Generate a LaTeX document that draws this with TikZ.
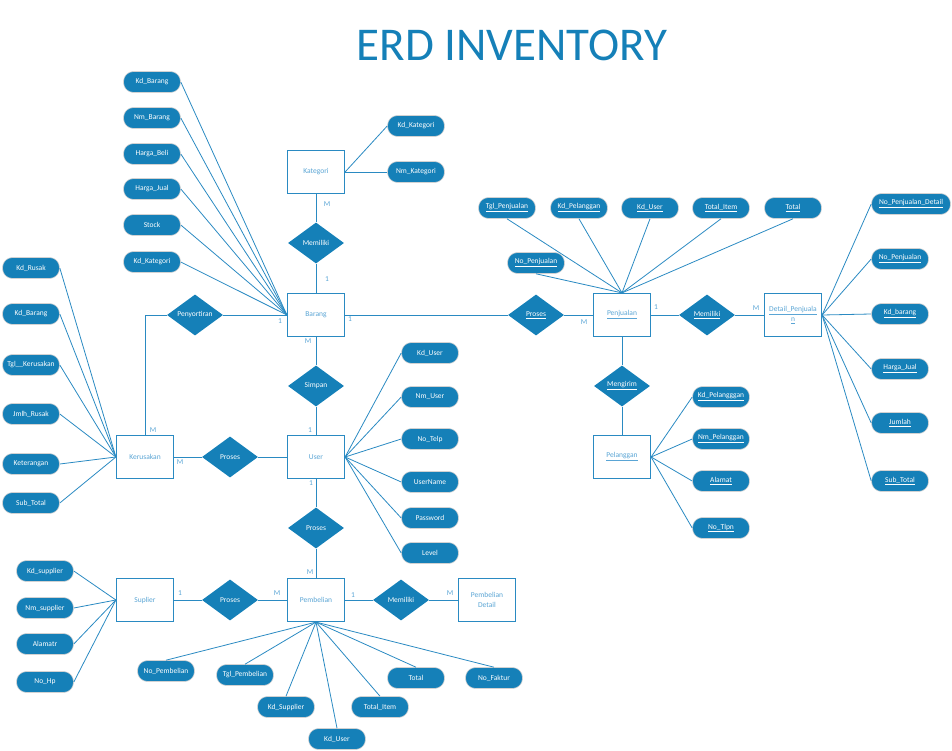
\documentclass[tikz,border=0pt]{standalone}
\usepackage{fontspec}
\setmainfont{Carlito}
\usetikzlibrary{shapes.geometric}
\definecolor{erdblue}{HTML}{1580B8}
\definecolor{erdline}{HTML}{2A8AC2}
\definecolor{erdtext}{HTML}{5AA5D5}
\newcommand\undl[1]{\underline{#1}}
\tikzset{
 ent/.style={draw=erdline, line width=1.2pt, fill=white, minimum width=57pt, minimum height=43pt, inner sep=1pt, font=\fontsize{7.5}{10}\selectfont, text=erdtext, align=center},
 rel/.style={diamond, fill=erdblue, minimum width=56pt, minimum height=41pt, inner sep=0pt, aspect=2, text=white, font=\fontsize{7.5}{9}\selectfont},
 attr/.style={rectangle, rounded corners=10pt, fill=erdblue, draw=gray!35, line width=0.6pt, minimum width=57pt, minimum height=21pt, inner sep=1pt, text=white, font=\fontsize{7.5}{9}\selectfont},
 conn/.style={draw=erdline, line width=0.8pt},
 card/.style={text=erdtext, font=\fontsize{7.5}{9}\selectfont, inner sep=0pt},
}
\begin{document}
\begin{tikzpicture}[x=1pt,y=-1pt]
\useasboundingbox (0,0) rectangle (952,751);
\node (title) at (512,45) {\fontsize{47}{50}\selectfont\color{erdblue}ERD INVENTORY};

% entities
\node[ent] (kat) at (316,172) {Kategori};
\node[ent] (brg) at (316,315) {Barang};
\node[ent] (usr) at (316,457) {User};
\node[ent] (pbl) at (316,600) {Pembelian};
\node[ent] (krs) at (145,457) {Kerusakan};
\node[ent] (sup) at (145,600) {Suplier};
\node[ent] (pbd) at (487,600) {Pembelian\\Detail};
\node[ent] (pjl) at (622,315) {\undl{Penjualan}};
\node[ent] (dpj) at (793,315) {\undl{Detail\_Penjuala}\\\undl{n}};
\node[ent] (plg) at (622,457) {\undl{Pelanggan}};

% relationships
\node[rel] (r1) at (316,243) {Memiliki};
\node[rel] (r2) at (195,315) {Penyortiran};
\node[rel] (r3) at (536,315) {\undl{Proses}};
\node[rel] (r4) at (316,386) {Simpan};
\node[rel] (r5) at (230,457) {Proses};
\node[rel] (r6) at (316,528) {Proses};
\node[rel] (r7) at (230,600) {Proses};
\node[rel] (r8) at (401,600) {Memiliki};
\node[rel] (r9) at (707,315) {\undl{Memiliki}};
\node[rel] (r10) at (622,386) {\undl{Mengirim}};

% relationship connectors
\draw[conn] (kat) -- (r1) -- (brg);
\draw[conn] (brg) -- (r2);
\draw[conn] (r2.west) -| (krs.north);
\draw[conn] (brg) -- (r3) -- (pjl);
\draw[conn] (brg) -- (r4) -- (usr);
\draw[conn] (krs) -- (r5) -- (usr);
\draw[conn] (usr) -- (r6) -- (pbl);
\draw[conn] (sup) -- (r7) -- (pbl);
\draw[conn] (pbl) -- (r8) -- (pbd);
\draw[conn] (pjl) -- (r9) -- (dpj);
\draw[conn] (pjl) -- (r10) -- (plg);

% cardinalities
\node[card] (c1) at (327,204) {M};
\node[card] (c2) at (327,279) {1};
\node[card] (c3) at (280,321) {1};
\node[card] (c4) at (153,430) {M};
\node[card] (c5) at (350,319) {1};
\node[card] (c6) at (584,322) {M};
\node[card] (c7) at (308,341) {M};
\node[card] (c8) at (310,430) {1};
\node[card] (c9) at (180,462) {M};
\node[card] (c10) at (311,483) {1};
\node[card] (c11) at (310,572) {M};
\node[card] (c12) at (180,593) {1};
\node[card] (c13) at (277,593) {M};
\node[card] (c14) at (353,595) {1};
\node[card] (c15) at (450,593) {M};
\node[card] (c16) at (656,307) {1};
\node[card] (c17) at (756,308) {M};

% Barang attributes
\foreach \n/\t/\y in {b1/Kd\_Barang/82, b2/Nm\_Barang/118, b3/Harga\_Beli/154, b4/Harga\_Jual/189, b5/Stock/225, b6/Kd\_Kategori/262}{
  \node[attr] (\n) at (152,\y) {\t};
  \draw[conn] (\n.east) -- (brg.west);
}
% Kategori attributes
\foreach \n/\t/\y in {k1/Kd\_Kategori/126, k2/Nm\_Kategori/172}{
  \node[attr] (\n) at (416,\y) {\t};
  \draw[conn] (\n.west) -- (kat.east);
}
% Kerusakan attributes
\foreach \n/\t/\y in {d1/Kd\_Rusak/268, d2/Kd\_Barang/314, d3/Tgl\_\_Kerusakan/365, d4/Jmlh\_Rusak/414, d5/Keterangan/464, d6/Sub\_Total/503}{
  \node[attr] (\n) at (31,\y) {\t};
  \draw[conn] (\n.east) -- (krs.west);
}
% User attributes
\foreach \n/\t/\y in {u1/Kd\_User/353, u2/Nm\_User/397, u3/No\_Telp/439, u4/UserName/482, u5/Password/518, u6/Level/553}{
  \node[attr] (\n) at (430,\y) {\t};
  \draw[conn] (\n.west) -- (usr.east);
}
% Suplier attributes
\foreach \n/\t/\y in {s1/Kd\_supplier/571, s2/Nm\_supplier/608, s3/Alamatr/644, s4/No\_Hp/682}{
  \node[attr] (\n) at (45,\y) {\t};
  \draw[conn] (\n.east) -- (sup.west);
}
% Pembelian attributes
\foreach \n/\t/\x/\y in {p1/No\_Pembelian/166/671, p2/Tgl\_Pembelian/245/675, p3/Kd\_Supplier/286/707, p4/Kd\_User/337/739, p5/Total\_Item/380/707, p6/Total/416/678, p7/No\_Faktur/494/678}{
  \node[attr] (\n) at (\x,\y) {\t};
  \draw[conn] (\n.north) -- (pbl.south);
}
% Penjualan attributes
\foreach \n/\t/\x/\y in {j1/Tgl\_Penjualan/507/208, j2/Kd\_Pelanggan/579/208, j3/Kd\_User/650/208, j4/Total\_Item/721/208, j5/Total/793/208, j6/No\_Penjualan/536/263}{
  \node[attr] (\n) at (\x,\y) {\undl{\t}};
  \draw[conn] (\n.south) -- (pjl.north);
}
% Detail_Penjualan attributes
\node[attr, minimum width=79pt] (e1) at (911,204) {\undl{No\_Penjualan\_Detail}};
\draw[conn] (e1.west) -- (dpj.east);
\foreach \n/\t/\y in {e2/No\_Penjualan/259, e3/Kd\_barang/314, e4/Harga\_Jual/369, e5/Jumlah/423, e6/Sub\_Total/481}{
  \node[attr] (\n) at (900,\y) {\undl{\t}};
  \draw[conn] (\n.west) -- (dpj.east);
}
% Pelanggan attributes
\foreach \n/\t/\y in {g1/Kd\_Pelangggan/397, g2/Nm\_Pelanggan/439, g3/Alamat/481, g4/No\_Tlpn/528}{
  \node[attr] (\n) at (721,\y) {\undl{\t}};
  \draw[conn] (\n.west) -- (plg.east);
}
\end{tikzpicture}
\end{document}
